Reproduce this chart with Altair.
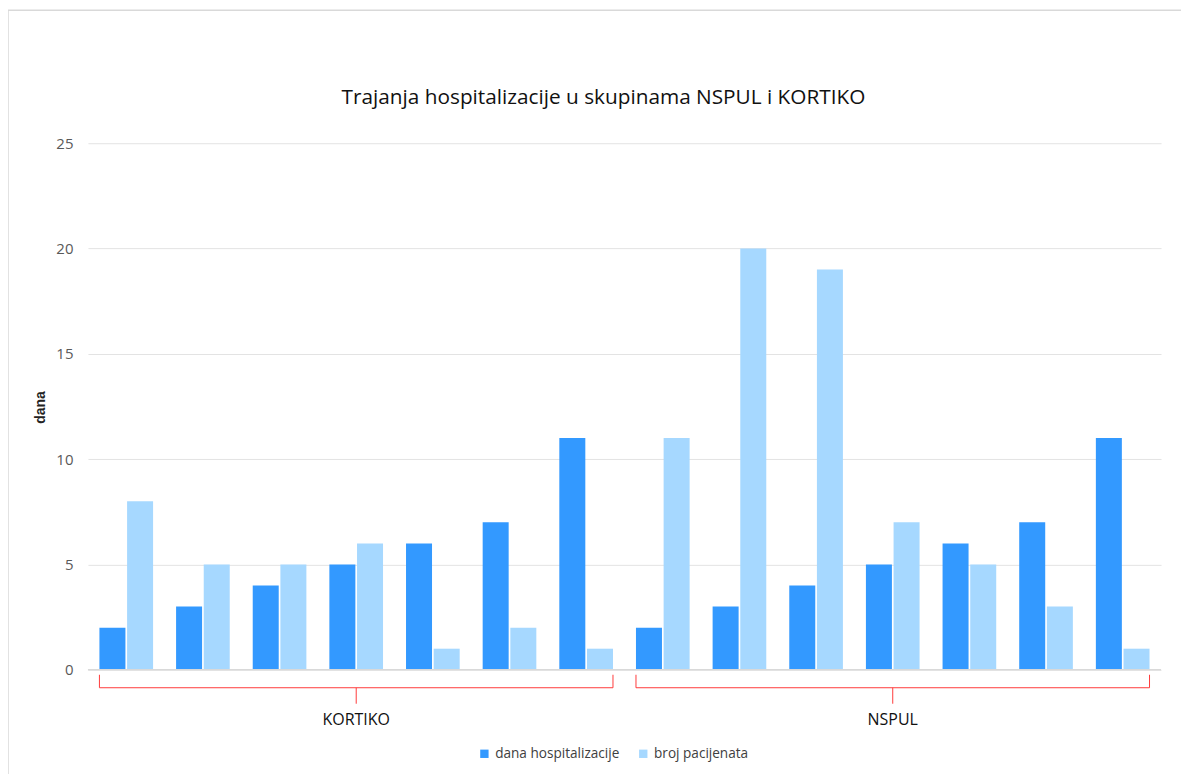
import altair as alt
import pandas as pd

# ---- data ----
skupine = ["KORTIKO"] * 7 + ["NSPUL"] * 7
kategorije = [f"{g} {i + 1}" for g, i in zip(skupine, list(range(7)) * 2)]
dana_hospitalizacije = [2, 3, 4, 5, 6, 7, 11, 2, 3, 4, 5, 6, 7, 11]
broj_pacijenata = [8, 5, 5, 6, 1, 2, 1, 11, 20, 19, 7, 5, 3, 1]
serije = ["dana hospitalizacije", "broj pacijenata"]
boje = ["#3399FF", "#A6D8FF"]
y_ticks = [0, 5, 10, 15, 20, 25]
naslov = "Trajanja hospitalizacije u skupinama NSPUL i KORTIKO"

rows = []
for k, d, b in zip(kategorije, dana_hospitalizacije, broj_pacijenata):
    rows.append({"kat": k, "serija": serije[0], "v": d})
    rows.append({"kat": k, "serija": serije[1], "v": b})
df = pd.DataFrame(rows)

grupe = []
for g in ["KORTIKO", "NSPUL"]:
    ks = [k for k, s in zip(kategorije, skupine) if s == g]
    grupe.append({"grupa": g, "first": ks[0], "last": ks[-1], "center": ks[len(ks) // 2]})
gdf = pd.DataFrame(grupe)

W, H = 1074, 527
FONT = "Open Sans"

xscale = alt.Scale(domain=kategorije, paddingInner=0.3, paddingOuter=0.15)
yscale = alt.Scale(domain=[0, 25], nice=False, zero=True)

frame = alt.Chart(pd.DataFrame({"a": [0]})).mark_rect(
    fill=None, stroke="#D9D9D9", strokeWidth=1.5
).encode(
    x=alt.value(-80), x2=alt.value(W + 200),
    y=alt.value(-133), y2=alt.value(H + 200),
)

title = alt.Chart(pd.DataFrame({"t": [naslov]})).mark_text(
    font=FONT, fontSize=20.8, color="#111111", baseline="middle", align="center"
).encode(x=alt.value(W / 2 - 21), y=alt.value(-45), text="t:N")

bars = alt.Chart(df).mark_bar().encode(
    x=alt.X("kat:N", scale=xscale, axis=None, sort=kategorije),
    xOffset=alt.XOffset("serija:N", sort=serije,
                        scale=alt.Scale(domain=serije, paddingInner=0.06)),
    y=alt.Y("v:Q", scale=yscale,
            axis=alt.Axis(values=y_ticks, title="dana", grid=True, domain=False,
                          ticks=False, labelPadding=15, labelColor="#595959",
                          labelFontSize=15, labelFont=FONT, gridColor="#E3E3E3",
                          titleFont="Liberation Sans", titleFontSize=14,
                          titleFontWeight="bold", titleColor="#222222",
                          titleX=-47, titleY=264, titleBaseline="middle",
                          titleAlign="center")),
    color=alt.Color("serija:N", sort=serije,
                    scale=alt.Scale(domain=serije, range=boje),
                    legend=alt.Legend(title=None, orient="none", direction="horizontal",
                                      legendX=390, legendY=604, symbolType="square",
                                      symbolSize=70, symbolStrokeWidth=0,
                                      labelFont=FONT, labelFontSize=13.6,
                                      labelColor="#404040", columnPadding=17,
                                      labelOffset=4)),
)

zero = alt.Chart(pd.DataFrame({"y0": [0]})).mark_rule(color="#D9D9D9", strokeWidth=1.5).encode(
    y=alt.Y("y0:Q", scale=yscale), x=alt.value(0), x2=alt.value(W)
)

red = "#FF3B3B"
brace_h = alt.Chart(gdf).mark_rule(color=red, strokeWidth=1).encode(
    x=alt.X("first:N", scale=xscale, bandPosition=0),
    x2=alt.X2("last:N", bandPosition=1),
    y=alt.value(H + 18),
)
brace_l = alt.Chart(gdf).mark_rule(color=red, strokeWidth=1).encode(
    x=alt.X("first:N", scale=xscale, bandPosition=0),
    y=alt.value(H + 5), y2=alt.value(H + 18),
)
brace_r = alt.Chart(gdf).mark_rule(color=red, strokeWidth=1).encode(
    x=alt.X("last:N", scale=xscale, bandPosition=1),
    y=alt.value(H + 5), y2=alt.value(H + 18),
)
brace_c = alt.Chart(gdf).mark_rule(color=red, strokeWidth=1).encode(
    x=alt.X("center:N", scale=xscale, bandPosition=0.5),
    y=alt.value(H + 18), y2=alt.value(H + 34),
)
labels = alt.Chart(gdf).mark_text(font=FONT, fontSize=16, color="#111111",
                                  baseline="middle").encode(
    x=alt.X("center:N", scale=xscale, bandPosition=0.5),
    y=alt.value(H + 50),
    text="grupa:N",
)

chart = alt.layer(frame, title, bars, zero, brace_h, brace_l, brace_r, brace_c, labels).properties(
    width=W, height=H,
    autosize=alt.AutoSizeParams(type="none"),
    padding={"left": 80, "top": 135, "right": 20, "bottom": 104},
).configure_view(stroke=None).configure_axis(labelFont=FONT)

chart.save("out.html", embed_options={"renderer": "svg", "actions": False})
